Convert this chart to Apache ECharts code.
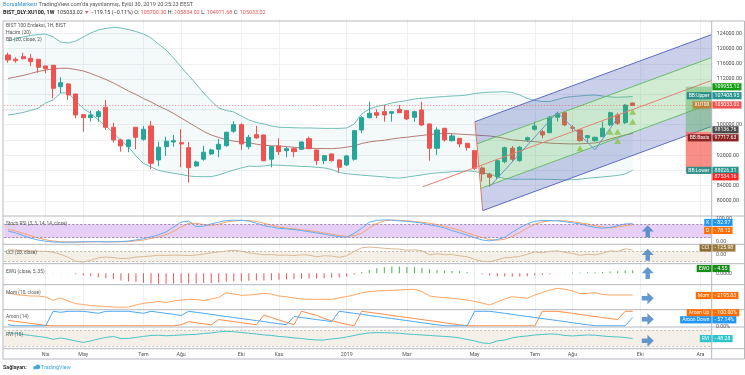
<!DOCTYPE html>
<html>
<head>
<meta charset="utf-8">
<script src="https://cdn.jsdelivr.net/npm/echarts@6/dist/echarts.min.js"></script>
<style>
html, body { margin: 0; padding: 0; background: #fff; }
#chart { width: 745px; height: 375px; }
</style>
</head>
<body>
<div id="chart"></div>
<script>
// ---- data (weekly bars, 26 Feb 2018 .. 30 Sep 2019) ----
const monthTicks = [[5, 'Nis'], [10, 'May'], [18, 'Tem'], [23, 'Ağu'], [31, 'Eki'], [36, 'Kas'], [45, '2019'],
  [53, 'Mar'], [62, 'May'], [70, 'Tem'], [75, 'Ağu'], [84, 'Eki'], [92, 'Ara']];
const hiddenPriceLabels = [108000, 104000, 96000, 88000];

// [open, close, low, high]
const ohlc = [
  [118306, 116994, 116286, 118910], [117178, 116810, 116286, 117702], [117860, 117335, 117178, 118910],
  [117440, 116548, 115420, 118568], [117178, 115078, 113662, 117300], [115420, 114711, 113504, 115500],
  [115603, 109568, 106944, 115650], [109988, 111038, 108256, 112454], [110696, 107810, 106498, 110880],
  [108072, 102562, 101696, 108100], [102641, 101854, 98180, 102700], [101854, 102562, 100804, 103690],
  [102116, 103428, 100804, 103874], [104582, 99334, 98626, 106498], [99334, 96002, 95294, 100542],
  [96002, 94428, 92932, 96343], [94244, 96002, 92774, 96186], [99334, 96710, 93562, 99400],
  [96186, 98810, 95818, 99676], [99676, 89888, 88314, 100988], [90754, 94086, 89180, 95556],
  [94244, 95661, 91804, 96868], [95477, 95818, 94244, 97314], [95294, 94952, 88838, 98810],
  [93982, 88734, 84798, 95477], [89180, 90229, 88996, 90570], [90938, 92774, 90570, 94428],
  [92328, 93378, 92066, 93719], [93562, 94874, 91462, 96264], [94506, 98022, 94244, 98180],
  [98285, 100017, 97918, 100909], [100017, 94952, 93378, 100384], [94244, 96710, 93562, 97314],
  [97393, 96527, 96343, 99676], [97314, 90570, 90400, 97400], [90938, 94244, 88838, 94428],
  [94428, 92932, 92066, 96448], [93194, 93719, 91462, 94244], [93719, 92932, 91462, 94086],
  [93562, 95477, 93378, 95556], [96343, 93719, 93562, 96868], [93378, 90570, 89442, 93500],
  [90570, 91882, 89704, 92066], [92328, 90570, 90308, 92512], [90754, 88838, 87422, 90938],
  [89442, 91804, 89180, 92066], [90938, 98442, 90570, 98626], [98626, 101854, 97760, 102300],
  [101854, 103008, 101696, 106052], [103166, 102483, 101696, 104058], [103428, 102562, 100804, 105186],
  [103008, 103428, 100804, 103500], [104058, 103166, 103008, 105186], [103690, 101512, 101250, 103874],
  [101958, 103428, 100804, 103690], [103874, 99938, 99676, 106052], [100200, 93824, 90570, 100300],
  [93824, 98626, 92066, 99334], [99072, 96002, 95556, 99150], [95818, 97052, 95556, 97760],
  [96448, 94952, 94086, 96500], [95136, 93982, 93194, 95200], [93194, 88576, 88130, 93250],
  [88654, 87080, 85060, 89000], [87001, 86214, 83748, 87422], [86372, 90570, 85690, 90938],
  [90308, 93982, 89888, 94244], [93824, 90938, 90308, 94428], [90570, 94086, 90308, 94428],
  [96002, 96606, 95500, 96868], [98810, 99676, 98442, 100804], [98180, 97314, 96448, 98626],
  [97918, 101959, 97760, 102300], [101959, 102824, 100804, 103428], [103166, 99938, 99676, 103428],
  [99334, 99072, 98180, 99938], [98626, 95818, 95556, 98810], [96606, 97130, 95294, 97314],
  [95818, 96710, 95556, 96868], [96868, 99072, 96710, 100804], [99938, 103166, 99676, 103428],
  [102562, 100384, 99938, 103166], [100542, 105152, 100200, 105448], [105700.30, 105033.02, 104971.68, 105834.02]
];

const bbUpper = [121980, 122504, 123029, 123423, 123685, 123816, 123029, 121717, 121455, 121980,
  123029, 124079, 124866, 125260, 125574, 125391, 124997, 124472, 123816, 122767,
  121192, 119618, 117519, 115157, 112927, 110696, 108335, 106236, 104399, 103743,
  103349, 102300, 101250, 100594, 100200, 99676, 99334, 99282, 99203, 99150,
  99150, 99098, 99045, 99045, 99045, 99150, 100200, 102824, 104136, 104792,
  105186, 105711, 106052, 106367, 106760, 106944, 107102, 107285, 107416, 107548,
  107626, 107810, 108204, 108414, 108545, 108597, 108676, 108466, 107810, 106892,
  106367, 106104, 106104, 106629, 107154, 107416, 107548, 107731, 107810, 107548,
  107285, 107206, 107285, 107408.95];
const bbBasis = [112140, 112533, 112927, 113452, 113976, 114370, 114632, 114816, 114816, 114501,
  114108, 113452, 112664, 111877, 110959, 109909, 108860, 107941, 106892, 105973,
  104924, 104005, 102956, 101775, 100594, 99413, 98232, 97314, 96658, 96054,
  95687, 95477, 95294, 94900, 94611, 94480, 94428, 94270, 94086, 93903,
  93824, 93772, 93745, 93719, 93850, 94113, 94428, 95084, 95477, 95740,
  95923, 96264, 96527, 96710, 96973, 97183, 97445, 97576, 97708, 97655,
  97524, 97419, 97314, 97157, 97052, 96789, 96396, 96002, 95871, 95687,
  95556, 95346, 95162, 95084, 95005, 94952, 95005, 95084, 95215, 95608,
  96264, 96789, 97314, 97717.63];
const bbLower = [102562, 102824, 103218, 103743, 104320, 105711, 106498, 108335, 108335, 106236,
  104268, 102956, 101250, 99676, 97839, 95871, 94165, 91804, 89836, 88917,
  87999, 87605, 87264, 86949, 86556, 86372, 86372, 86372, 86818, 87474,
  88130, 88655, 89127, 89048, 89180, 89442, 89363, 89258, 89180, 89048,
  88996, 88838, 88655, 88261, 87474, 87133, 86949, 86766, 86608, 86451,
  86293, 86083, 85978, 86241, 86556, 86818, 87159, 87343, 87474, 87658,
  87736, 87868, 87736, 87343, 87080, 86293, 85900, 85690, 85690, 85690,
  85690, 85690, 85663, 85611, 85506, 85558, 85716, 85952, 86110, 86293,
  86477, 86687, 87080, 88026.31];

const stochK = [50, 42, 30, 18, 10, 4, 1, 0, 0, 1, 2, 2, 3, 1, 2, 3, 5, 10, 16, 24,
  33, 46, 68, 90, 95, 70, 72, 82, 90, 97, 99, 98, 95, 85, 74, 68, 62, 60, 57, 52,
  47, 42, 36, 30, 25, 22, 40, 62, 90, 98, 100, 99, 96, 93, 90, 86, 78, 72, 64, 52,
  42, 32, 20, 10, 6, 12, 22, 45, 65, 82, 94, 97, 97, 96, 92, 87, 82, 74, 66, 63,
  66, 74, 82, 82.97];
const stochD = [58, 50, 40, 29, 19, 11, 5, 2, 1, 0, 1, 2, 2, 2, 2, 2, 3, 6, 10, 17,
  24, 34, 49, 68, 84, 85, 79, 75, 81, 90, 95, 98, 97, 93, 85, 76, 68, 63, 60, 56,
  52, 47, 42, 36, 30, 26, 29, 41, 64, 83, 96, 99, 98, 96, 93, 90, 85, 79, 71, 63,
  53, 42, 31, 21, 12, 9, 13, 26, 44, 64, 80, 91, 96, 97, 95, 92, 87, 81, 74, 68,
  65, 68, 74, 78.12];
const cci = [130, 125, 118, 112, 105, 100, 80, 40, -20, -100, -115, -80, -30, -15, -25, -45, -40, -15, -5, 5,
  20, 18, 22, 20, 15, 25, 45, 70, 86, 105, 120, 100, 70, 50, 30, 35, 20, 25, 15, 30,
  25, -10, 10, 5, -20, 10, 100, 170, 185, 175, 160, 150, 145, 120, 130, 110, 30, 50, 30, 35,
  10, -10, -60, -100, -110, -70, -30, -20, 0, 40, 90, 70, 100, 110, 80, 60, 20, 40, 30, 60,
  110, 100, 150, 125.98];
const ewo = [1.5, 1.2, 1, 0.8, 0.6, 0.5, 0.5, 0.4, 0.2, -1.5, -3, -4.5, -6, -7.5, -9, -11, -12.5, -13.5, -14.5, -15.5,
  -16, -16, -15.5, -15, -15.5, -15.5, -15, -15, -14, -13, -12, -12, -11.5, -11, -11, -10.5, -10, -9.5, -9, -8.5,
  -8, -8, -7.5, -7, -6.5, -5, -2, 2, 5, 7.5, 9, 10, 10, 9.5, 9, 8, 6, 5, 4, 3.5,
  3, 2, 0.5, -1.5, -3.5, -4.5, -5, -5.5, -5, -4.5, -3.5, -2.5, -1.5, -0.5, 0.5, 1, 1, 1.5, 1.5, 2,
  2.5, 3, 4, 4.55];
const mom = [4200, 2700, 1900, 1200, 1200, 200, -3100, -800, -3800, -6500,
  -7300, -8300, -8800, -9300, -9800, -10100, -9800, -7800, -6100, -5300,
  -4300, -5300, -3800, -2800, -2100, -2300, -3300, -1800, -300, 4500,
  3200, 1900, 2200, 2700, 3900, 3200, 1200, 500, -800, -1800,
  -2100, -2100, -2100, -2100, -800, 700, 2200, 4500, 5500, 6200,
  6500, 6900, 7200, 7700, 7900, 5700, 1200, 200, -500, -1100,
  -1800, -2800, -4300, -5800, -7800, -4800, -1800, 500, -300, -1100,
  2200, 4700, 7200, 8900, 7900, 6200, 3700, 3700, 4500, 2700,
  2200, 2200, 2200, 2195.83];
const aroonUp = [38, 31, 24, 17, 10, 3, 0, 0, 0, 0, 0, 0, 0, 0, 0, 0, 0, 0, 0, 0,
  0, 0, 0, 7, 29, 21, 14, 7, 43, 36, 29, 21, 14, 7, 74, 57, 40, 24, 8, 100,
  86, 72, 50, 35, 22, 10, 0, 100, 93, 86, 79, 71, 64, 57, 50, 43, 36, 29, 21, 14,
  7, 0, 0, 0, 0, 0, 0, 0, 0, 0, 0, 100, 100, 100, 93, 86, 79, 71, 64, 57,
  50, 43, 100, 100];
const aroonDown = [7, 0, 0, 0, 0, 0, 100, 93, 100, 100, 100, 93, 86, 100, 100, 100, 100, 93, 86, 100,
  93, 86, 79, 71, 100, 93, 86, 79, 71, 64, 57, 50, 43, 36, 29, 21, 14, 7, 64, 57,
  50, 43, 36, 29, 100, 93, 86, 79, 71, 64, 57, 50, 43, 36, 29, 21, 14, 7, 0, 0,
  0, 0, 100, 100, 100, 93, 86, 79, 71, 64, 57, 50, 43, 36, 29, 21, 14, 7, 0, 0,
  0, 0, 0, 57.14];
const rvi = [71.0, 68.0, 64.1, 60.3, 56.5, 52.7, 45.4, 50.8, 45.4, 39.3,
  33.6, 39.3, 46.9, 52.7, 56.5, 48.9, 48.9, 52.7, 56.5, 60.3,
  61.1, 59.2, 60.3, 62.2, 63.4, 64.1, 68.0, 69.9, 73.7, 76.4,
  74.5, 71.8, 68.7, 66.0, 62.2, 60.3, 56.5, 54.6, 50.8, 48.9,
  45.0, 43.1, 43.1, 46.9, 49.6, 54.6, 60.3, 66.0, 69.9, 71.0,
  71.0, 69.9, 68.7, 66.0, 64.1, 62.2, 60.3, 58.4, 56.5, 54.6,
  50.8, 45.0, 39.3, 31.7, 29.7, 39.3, 43.1, 50.8, 55.7, 58.4,
  62.2, 64.1, 66.0, 64.9, 60.3, 58.4, 60.3, 62.2, 61.1, 58.4,
  55.7, 54.6, 52.7, 48.28];

// drawings (bar index, price)
const pitchforkPivot = [55.1, 83700];
const pitchforkUpper = [62.05, 100800];
const pitchforkLower = [63.07, 77450];
const waveABC = [[64, 83748], [73, 103300], [78, 93400], [81, 101800]];
const waveNames = ['', '(A)', '(B)', '(C)'];
const upSignals = [[76, 93824], [80, 98180], [81, 98180], [81, 95739], [83, 103428], [83, 100804]];
const positionSpan = [90.05, 93.5];
const positionLevels = { target: 109955.12, entry: 98136.76, stop: 87534.16 };
const lastPrice = 105033.02;

// ---- layout ----
const FONT = 'Roboto, "Liberation Sans", sans-serif';
const SLOTS = 94;
const weeks = [];
for (let i = 0; i < SLOTS; i++) {
  weeks.push(new Date(Date.UTC(2018, 1, 26) + i * 7 * 864e5).toISOString().slice(0, 10));
}
const tickIdx = new Set(monthTicks.map(t => t[0]));
const tickText = {};
monthTicks.forEach(t => { tickText[t[0]] = t[1]; });

const panes = [
  { top: 18.06, height: 198.1, min: 76000, max: 128000 },
  { top: 216, height: 28.3, min: -9.4, max: 117.5 },
  { top: 244.3, height: 19.4, min: -148, max: 240 },
  { top: 263.7, height: 21, min: -17.4, max: 14.4 },
  { top: 284.7, height: 25, min: -12500, max: 12500 },
  { top: 309.7, height: 17.3, min: -8.3, max: 111 },
  { top: 327, height: 21.7, min: 9.7, max: 92.6 }
];
const GRID_LINE = '#eef0f4';

const xAxes = panes.map((p, k) => ({
  type: 'category', gridIndex: k, data: weeks, boundaryGap: true,
  axisLine: { show: false }, axisTick: { show: false },
  axisLabel: k === 6 ? {
    interval: i => tickIdx.has(i), formatter: (v, i) => tickText[i] || '',
    fontSize: 5.3, color: '#555', margin: 3.5, fontFamily: FONT
  } : { show: false },
  splitLine: { show: true, interval: i => tickIdx.has(i), alignWithLabel: true, lineStyle: { color: GRID_LINE, width: 1 } }
}));
xAxes.push({ type: 'value', gridIndex: 0, min: -0.5, max: SLOTS - 0.5, show: false });

const yAxes = panes.map((p, k) => k === 0 ? {
  type: 'value', gridIndex: 0, position: 'right', min: p.min, max: p.max, interval: 4000,
  axisLine: { show: false }, axisTick: { show: false },
  axisLabel: {
    fontSize: 5.3, color: '#4a4a4a', margin: 5, fontFamily: FONT,
    showMinLabel: false, showMaxLabel: false,
    formatter: v => hiddenPriceLabels.includes(v) ? '' : v.toFixed(2)
  },
  splitLine: { lineStyle: { color: GRID_LINE }, showMinLine: false, showMaxLine: false }
} : { type: 'value', gridIndex: k, min: p.min, max: p.max, show: false });

function band(k, lo, hi, fill, dash) {
  return {
    type: 'line', xAxisIndex: k, yAxisIndex: k, data: [], silent: true, z: 1,
    markArea: { silent: true, itemStyle: { color: fill }, data: [[{ yAxis: lo }, { yAxis: hi }]] },
    markLine: { silent: true, symbol: 'none', label: { show: false },
      lineStyle: { color: dash, type: [2, 2], width: 1 }, data: [{ yAxis: lo }, { yAxis: hi }] }
  };
}
function plot(k, data, color) {
  return { type: 'line', xAxisIndex: k, yAxisIndex: k, data, symbol: 'none', silent: true, z: 3,
    lineStyle: { color, width: 1 } };
}
const UP_ARROW = 'path://M6,0L12,6.3L8.2,6.3L8.2,12L3.8,12L3.8,6.3L0,6.3Z';
const RIGHT_ARROW = 'path://M12,6L5.7,0L5.7,3.8L0,3.8L0,8.2L5.7,8.2L5.7,12Z';
function arrow(k, v, path) {
  return { type: 'scatter', xAxisIndex: k, yAxisIndex: k, data: [[85, v]], symbol: path,
    symbolSize: [12, 12], itemStyle: { color: '#3e7ec2' }, silent: true, z: 8 };
}

function drawPitchfork(params, api) {
  const [px, py] = pitchforkPivot, [ax, ay] = pitchforkUpper, [bx, by] = pitchforkLower;
  const mx = (ax + bx) / 2, my = (ay + by) / 2;
  const slope = (my - py) / (mx - px);
  const end = SLOTS - 0.5;
  const lvl = [0, 0.25, 0.75, 1].map(t => {
    const x = ax + (bx - ax) * t, y = ay + (by - ay) * t;
    return [api.coord([x, y]), api.coord([end, y + slope * (end - x)])];
  });
  const poly = (i, j, fill) => ({ type: 'polygon', shape: { points: [lvl[i][0], lvl[i][1], lvl[j][1], lvl[j][0]] }, style: { fill } });
  const seg = (a, b, stroke) => ({ type: 'line', shape: { x1: a[0], y1: a[1], x2: b[0], y2: b[1] }, style: { stroke, lineWidth: 1 } });
  const blue = 'rgba(63,81,181,0.28)', green = 'rgba(76,175,80,0.25)';
  return { type: 'group', children: [
    poly(0, 1, blue), poly(1, 2, green), poly(2, 3, blue),
    seg(lvl[0][0], lvl[0][1], '#5c6bc0'), seg(lvl[3][0], lvl[3][1], '#5c6bc0'),
    seg(lvl[1][0], lvl[1][1], '#66bb6a'), seg(lvl[2][0], lvl[2][1], '#66bb6a'),
    seg(api.coord([px, py]), api.coord([end, py + slope * (end - px)]), '#e57f73'),
    seg(lvl[0][0], lvl[3][0], '#d9776c')
  ] };
}
function drawPosition(params, api) {
  const a = api.coord([positionSpan[0], positionLevels.target]);
  const b = api.coord([positionSpan[1], positionLevels.entry]);
  const c = api.coord([positionSpan[1], positionLevels.stop]);
  return { type: 'group', children: [
    { type: 'rect', shape: { x: a[0], y: a[1], width: b[0] - a[0], height: b[1] - a[1] }, style: { fill: 'rgba(76,175,80,0.42)' } },
    { type: 'rect', shape: { x: a[0], y: b[1], width: b[0] - a[0], height: c[1] - b[1] }, style: { fill: 'rgba(244,67,54,0.6)' } }
  ] };
}

const series = [
  { type: 'line', data: bbLower, stack: 'bb', symbol: 'none', lineStyle: { opacity: 0 }, silent: true, z: 1 },
  { type: 'line', data: bbUpper.map((v, i) => v - bbLower[i]), stack: 'bb', symbol: 'none',
    lineStyle: { opacity: 0 }, areaStyle: { color: 'rgba(38,166,154,0.07)' }, silent: true, z: 1 },
  { type: 'line', data: bbUpper, symbol: 'none', silent: true, z: 2, lineStyle: { color: '#72bdb8', width: 1 } },
  { type: 'line', data: bbLower, symbol: 'none', silent: true, z: 2, lineStyle: { color: '#72bdb8', width: 1 } },
  { type: 'line', data: bbBasis, symbol: 'none', silent: true, z: 2, lineStyle: { color: '#b27a74', width: 1 } },
  { type: 'candlestick', data: ohlc, barWidth: 4.6, silent: true, z: 3,
    itemStyle: { color: '#26a69a', color0: '#ef5350', borderColor: '#26a69a', borderColor0: '#ef5350', borderWidth: 1 },
    markLine: { silent: true, symbol: 'none', label: { show: false },
      lineStyle: { color: '#ef5350', type: [1, 2], width: 1, opacity: 0.7 }, data: [{ yAxis: lastPrice }] } },
  { type: 'custom', xAxisIndex: 7, yAxisIndex: 0, data: [[62, 90000]], renderItem: drawPitchfork, clip: true, silent: true, z: 4 },
  { type: 'line', xAxisIndex: 7, yAxisIndex: 0, symbol: 'none', silent: true, z: 6,
    lineStyle: { color: '#6f8fd0', width: 1 },
    data: waveABC.map((p, i) => ({ value: p, label: { show: !!waveNames[i], formatter: waveNames[i],
      position: i === 2 ? 'bottom' : 'top', distance: 3, color: '#3b5aa3', fontSize: 6.5, fontFamily: FONT } })) },
  { type: 'scatter', data: upSignals, symbol: 'triangle', symbolSize: [7, 6], silent: true, z: 6,
    itemStyle: { color: '#8bc34a' } },
  { type: 'custom', xAxisIndex: 7, yAxisIndex: 0, data: [[91, 98000]], renderItem: drawPosition, silent: true, z: 5 },

  band(1, 20, 80, '#e6d0f7', '#9c8aa9'),
  plot(1, stochD, '#f7a36c'), plot(1, stochK, '#63aef2'),
  band(2, -100, 100, '#f4f0e8', '#c2b8aa'),
  plot(2, cci, '#d9b994'),
  { type: 'bar', xAxisIndex: 3, yAxisIndex: 3, data: ewo, barWidth: 1, silent: true, z: 3,
    itemStyle: { color: p => p.value >= 0 ? '#4caf50' : '#f0525a' } },
  plot(4, mom, '#ffa463'),
  plot(5, aroonUp, '#fb8c47'), plot(5, aroonDown, '#4ea7f2'),
  band(6, 20, 80, '#f4f0e8', '#c9c0b4'),
  plot(6, rvi, '#4cc3c8'),

  arrow(1, 49, UP_ARROW), arrow(2, 30, UP_ARROW), arrow(3, 0.3, UP_ARROW),
  arrow(4, -1100, RIGHT_ARROW), arrow(5, 45.5, RIGHT_ARROW), arrow(6, 40, RIGHT_ARROW)
];
series.forEach(s => {
  if (s.xAxisIndex === undefined) { s.xAxisIndex = 0; s.yAxisIndex = 0; }
});

const chart = echarts.init(document.getElementById('chart'));
chart.setOption({
  animation: false,
  grid: panes.map(p => ({ left: 4.24, right: 33.3, top: p.top, height: p.height, containLabel: false, outerBoundsMode: 'none' })),
  xAxis: xAxes,
  yAxis: yAxes,
  series
});

// ---- texts, frames and price tags ----
const g = [];
const txt = (x, y, text, opt) => g.push({ type: 'text', x, y, z: 50, silent: true,
  style: Object.assign({ text, fill: '#555', font: '5px ' + FONT, verticalAlign: 'middle', align: 'left' }, opt || {}) });
const hline = (y, color) => g.push({ type: 'line', z: 40, silent: true, shape: { x1: 3, y1: y, x2: 744.5, y2: y }, style: { stroke: color || '#b6b8be', lineWidth: 1 } });
const vline = x => g.push({ type: 'line', z: 40, silent: true, shape: { x1: x, y1: 21, x2: x, y2: 359 }, style: { stroke: '#b6b8be', lineWidth: 1 } });

[21, 216, 244.3, 263.7, 284.7, 309.7, 327, 348.7, 359].forEach(y => hline(y));
[3, 711.7, 744.5].forEach(vline);

txt(3, 5, '{b|BorsaMerkezi} TradingView.com\'da yayınlanmış, Eylül 30, 2019 20:25:23 EEST', {
  font: '5.6px ' + FONT, fill: '#555', rich: { b: { fill: '#2f8fe0', font: '5.6px ' + FONT } } });
txt(3, 12.8, '{k|BIST_DLY:XU100, 1W}  105033.02 {r|▼} −119.15 (−0.11%) O: {r|105700.30} H: {r|105834.02} L: {r|104971.68} C: {r|105033.02}', {
  font: '5.4px ' + FONT, fill: '#333',
  rich: { k: { font: 'bold 5.4px ' + FONT, fill: '#222' }, r: { fill: '#ef5350', font: '5.4px ' + FONT } } });
txt(6, 25.5, 'BIST 100 Endeksi, 1H, BIST');
txt(6, 32.3, 'Hacim (20)');
txt(6, 39.5, 'BB (20, close, 2)');
txt(6, 224, 'Stoch RSI (3, 3, 14, 14, close)', { font: '4.8px ' + FONT });
txt(6, 252.5, 'CCI (20, close)', { font: '4.8px ' + FONT });
txt(6, 272, 'EWO (close, 5, 35)', { font: '4.8px ' + FONT });
txt(6, 292.7, 'Mom (10, close)', { font: '4.8px ' + FONT });
txt(6, 317, 'Aroon (14)', { font: '4.8px ' + FONT });
txt(6, 334.7, 'RVI (10)', { font: '4.8px ' + FONT });
txt(3, 367.5, 'Sağlayan:', { font: 'bold 5.4px ' + FONT, fill: '#333' });
g.push({ type: 'circle', silent: true, shape: { cx: 35, cy: 367.8, r: 1.8 }, style: { fill: '#45a6e6' } });
g.push({ type: 'circle', silent: true, shape: { cx: 37.8, cy: 366.9, r: 2.4 }, style: { fill: '#45a6e6' } });
txt(41, 367.5, 'TradingView', { font: '5.4px ' + FONT, fill: '#3ba4e0' });

const py = (k, v) => chart.convertToPixel({ yAxisIndex: k }, v);
const valueTag = (k, v, text, bg, dy, color) => txt(712.4, py(k, v) + (dy || 0), text, {
  fill: color || '#fff', backgroundColor: bg, padding: [1.3, 2.2, 0.9, 2.2], font: '5.2px ' + FONT });
const nameTag = (k, v, text, bg, dy) => txt(711.4, py(k, v) + (dy || 0), text, {
  fill: '#fff', backgroundColor: bg, padding: [1.3, 2, 0.9, 2], font: '5px ' + FONT, align: 'right' });
const axisText = (k, v, text, dy) => txt(716, py(k, v) + (dy || 0), text, { font: '5.2px ' + FONT, fill: '#555' });

axisText(1, 100, '100.00', -1.5); axisText(1, 0, '0.00', -0.5);
axisText(2, 0, '0.00', -1.8);
axisText(3, 0, '0.0000', 0.8);
axisText(5, 0, '0.00%', 0.6);

valueTag(0, 109955.12, '109955.12', '#139e13');
nameTag(0, bbUpper[83], 'BB:Upper', 'rgba(38,140,135,0.95)', -0.8);
valueTag(0, bbUpper[83], '107408.95', '#26948f', -0.8);
nameTag(0, lastPrice, 'XU100', 'rgba(190,125,50,0.9)', -0.6);
valueTag(0, lastPrice, '105033.02', '#ef5350', -0.6);
valueTag(0, positionLevels.entry, '98136.76', '#4a4a4a', -2);
nameTag(0, bbBasis[83], 'BB:Basis', '#8c2424', 4.4);
valueTag(0, bbBasis[83], '97717.63', '#8c2424', 4.4);
nameTag(0, bbLower[83], 'BB:Lower', 'rgba(38,140,135,0.95)');
valueTag(0, bbLower[83], '88026.31', '#26948f');
valueTag(0, positionLevels.stop, '87534.16', '#ff2424', 4.6);

nameTag(1, stochK[83], 'K', '#2196f3', -1.2); valueTag(1, stochK[83], '- 82.97', '#2196f3', -1.2);
nameTag(1, stochD[83], 'D', '#ff6d00', 5.7); valueTag(1, stochD[83], '- 78.12', '#ff6d00', 5.7);
nameTag(2, cci[83], 'CCI', '#8f6d33', -2); valueTag(2, cci[83], '- 125.98', '#9b7a3e', -2);
nameTag(3, ewo[83], 'EWO', '#178c17', -1.7); valueTag(3, ewo[83], '- 4.55', '#178c17', -1.7);
nameTag(4, mom[83], 'Mom', '#ff6d00', 0.5); valueTag(4, mom[83], '- 2195.83', '#ff6d00', 0.5);
nameTag(5, aroonUp[83], 'Aroon Up', '#ff6d00', 1.5); valueTag(5, aroonUp[83], '- 100.00%', '#ff6d00', 1.5);
nameTag(5, aroonDown[83], 'Aroon Down', '#2196f3', 2.3); valueTag(5, aroonDown[83], '- 57.14%', '#2196f3', 2.3);
nameTag(6, rvi[83], 'RVI', '#2ec4cc'); valueTag(6, rvi[83], '- 48.28', '#2ec4cc');

chart.setOption({ graphic: g });
</script>
</body>
</html>
